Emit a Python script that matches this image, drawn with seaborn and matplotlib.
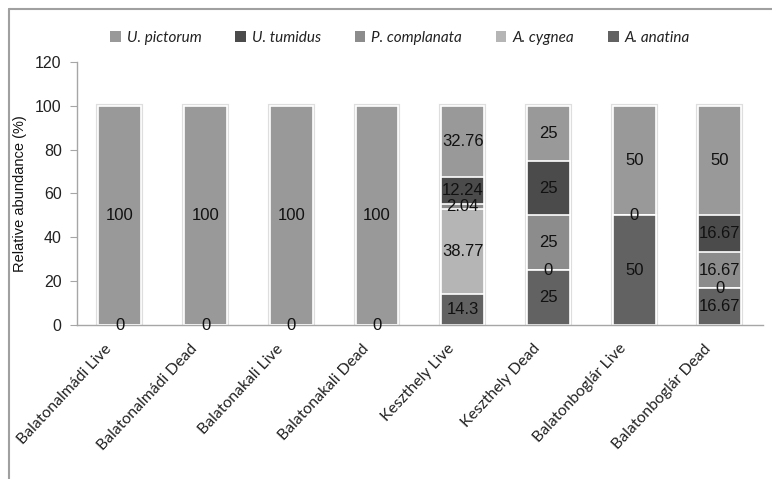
import numpy as np
import pandas as pd
import matplotlib
matplotlib.use('Agg')
import matplotlib.pyplot as plt
import matplotlib.transforms as mtransforms
import seaborn as sns
from matplotlib.lines import Line2D
from matplotlib.patches import Patch

# 数据
sites = ['Balatonalmádi Live', 'Balatonalmádi Dead', 'Balatonakali Live', 'Balatonakali Dead',
         'Keszthely Live', 'Keszthely Dead', 'Balatonboglár Live', 'Balatonboglár Dead']
# 从下到上的堆叠顺序
a_anatina = [0, 0, 0, 0, 14.3, 25, 50, 16.67]
a_cygnea = [np.nan, np.nan, np.nan, np.nan, 38.77, 0, 0, 0]
p_complanata = [np.nan, np.nan, np.nan, np.nan, 2.04, 25, np.nan, 16.67]
u_tumidus = [np.nan, np.nan, np.nan, np.nan, 12.24, 25, np.nan, 16.67]
u_pictorum = [100, 100, 100, 100, 32.76, 25, 50, 50]

series = ['A. anatina', 'A. cygnea', 'P. complanata', 'U. tumidus', 'U. pictorum']
values = [a_anatina, a_cygnea, p_complanata, u_tumidus, u_pictorum]
colors = ['#626262', '#b5b5b5', '#8c8c8c', '#4b4b4b', '#999999']

sns.set_style('white')
plt.rcParams['font.family'] = ['Liberation Sans', 'DejaVu Sans']

fig = plt.figure(figsize=(7.72, 4.79), dpi=100)
ax = fig.add_axes([0.0997, 0.3215, 0.8883, 0.5491])

df = pd.DataFrame({s: v for s, v in zip(series, values)}, index=sites).fillna(0)
cum = df.cumsum(axis=1)

# 外侧浅灰阴影
sns.barplot(x=sites, y=cum.iloc[:, -1].values, color='#dcdcdc', width=0.5,
            edgecolor='#dedede', linewidth=3, saturation=1, ax=ax)
# 叠加绘制累积值，从上往下
for i in range(len(series) - 1, -1, -1):
    sns.barplot(x=sites, y=cum.iloc[:, i].values, color=colors[i], width=0.5,
                edgecolor='white', linewidth=1.2, saturation=1, ax=ax)

# 数据标签
for j, site in enumerate(sites):
    base = 0
    for i, s in enumerate(series):
        v = values[i][j]
        if np.isnan(v):
            continue
        ax.text(j, base + v / 2, f'{v:g}', ha='center', va='center',
                fontsize=12, color='#111111')
        base += v

ax.set_ylim(0, 120)
ax.set_xlim(-0.5, 7.5)
ax.set_yticks(range(0, 121, 20))
ax.tick_params(axis='y', length=5, color='#a6a6a6', labelsize=11.5, labelcolor='#222222', pad=6,
               left=True)
ax.tick_params(axis='x', length=0, pad=12)
ax.set_xticks(range(len(sites)))
ax.set_xticklabels(sites, rotation=47, ha='right', rotation_mode='anchor',
                   family='Lato', fontsize=11.3, color='#222222')
offset = mtransforms.ScaledTranslation(-16 / 100, 0, fig.dpi_scale_trans)
for lab in ax.get_xticklabels():
    lab.set_transform(lab.get_transform() + offset)
ax.set_ylabel('Relative abundance (%)', fontsize=10.5, color='#111111', labelpad=6)
for sp in ['top', 'right']:
    ax.spines[sp].set_visible(False)
for sp in ['left', 'bottom']:
    ax.spines[sp].set_color('#a6a6a6')
    ax.spines[sp].set_linewidth(1)

# 图例（倒序）
handles = [Patch(facecolor=colors[i], edgecolor='none') for i in range(len(series) - 1, -1, -1)]
labels = series[::-1]
leg = fig.legend(handles, labels, loc='center', bbox_to_anchor=(0.518, 0.921), ncol=5,
                 frameon=False, handlelength=0.7, handleheight=0.7, handletextpad=0.4,
                 columnspacing=2.2, prop={'family': 'Lato', 'style': 'italic', 'size': 11})
for t in leg.get_texts():
    t.set_color('#222222')

# 图表外框
fig.add_artist(Line2D([9 / 772, 9 / 772], [0, 1 - 9 / 479], color='#a0a0a0', lw=1.5))
fig.add_artist(Line2D([9 / 772, 1], [1 - 9 / 479, 1 - 9 / 479], color='#a0a0a0', lw=1.5))

fig.savefig('out.png', dpi=100)
